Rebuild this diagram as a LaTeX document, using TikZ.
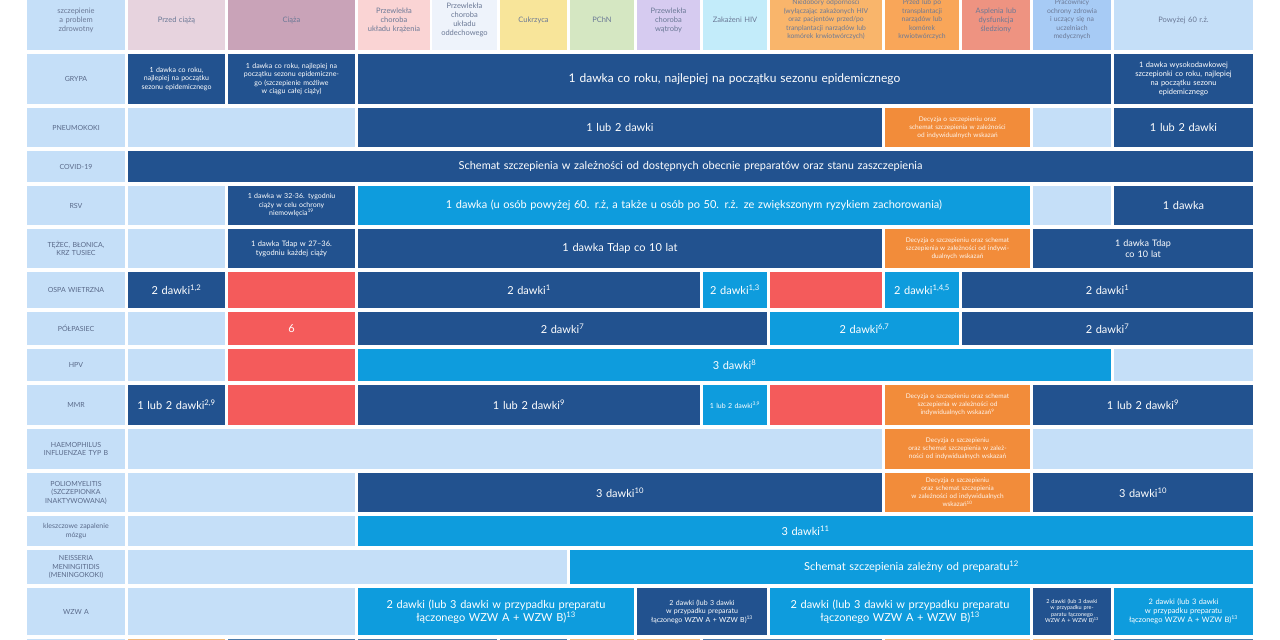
\documentclass[tikz,border=0pt]{standalone}
\usepackage{fontspec}
\setmainfont{Lato}
\usepackage{tikz}

\definecolor{pale}{HTML}{C5DFF8}
\definecolor{navy}{HTML}{22528F}
\definecolor{sky}{HTML}{0E9CDD}
\definecolor{alert}{HTML}{F45B5B}
\definecolor{decide}{HTML}{F28C3A}
\definecolor{labtext}{HTML}{5A6A8A}
\definecolor{hpre}{HTML}{E7D3DE}
\definecolor{hpreg}{HTML}{C9A3B8}
\definecolor{hheart}{HTML}{FAD4D4}
\definecolor{hlung}{HTML}{EEF3FB}
\definecolor{hsugar}{HTML}{F8E59A}
\definecolor{hkidney}{HTML}{D5E7C2}
\definecolor{hliver}{HTML}{D6CBF0}
\definecolor{hhiv}{HTML}{C3ECFA}
\definecolor{himmun}{HTML}{F9B56B}
\definecolor{htrans}{HTML}{F9A659}
\definecolor{hspleen}{HTML}{EE9381}
\definecolor{hstaff}{HTML}{A7CBF5}
\definecolor{lowor}{HTML}{F2B97A}
\definecolor{lowbl}{HTML}{4A79A8}

\tikzset{
  cell/.style={draw=none, inner sep=1pt, align=center, font=\fontsize{7}{8.5}\selectfont},
  lab/.style={cell, fill=pale, text=labtext},
  empty/.style={cell, fill=pale},
  dark/.style={cell, fill=navy, text=white},
  mid/.style={cell, fill=sky, text=white},
  red/.style={cell, fill=alert, text=white},
  dec/.style={cell, fill=decide, text=white!90!decide, font=\fontsize{6.5}{8}\selectfont},
  head/.style={cell, text=labtext!90, font=\fontsize{7.5}{9}\selectfont},
  big/.style={font=\fontsize{12}{14}\selectfont},
  med/.style={font=\fontsize{11}{13}\selectfont},
  tiny/.style={font=\fontsize{5.5}{6.5}\selectfont},
}

% cell: style, name, x1, x2, y1, y2, text
\newcommand{\cell}[7]{%
  \node[#1, minimum width={(#4-#3)*1pt}, minimum height={(#6-#5)*1pt}, text width={(#4-#3-4)*1pt}]
    (#2) at ({(#3+#4)/2},{(#5+#6)/2}) {#7};}
\newcommand{\up}[1]{\textsuperscript{#1}}

\begin{document}
\begin{tikzpicture}[x=1pt,y=-1pt]
  \useasboundingbox (0,0) rectangle (1280,640);

  % header row
  \cell{head, fill=pale}{h0}{27}{125}{-10}{50}{szczepienie\\a problem\\zdrowotny}
  \cell{head, fill=hpre}{h1}{128}{225}{-10}{50}{Przed ciążą}
  \cell{head, fill=hpreg}{h2}{228}{355}{-10}{50}{Ciąża}
  \cell{head, fill=hheart}{h3}{358}{430}{-10}{50}{Przewlekła\\choroba\\układu krążenia}
  \cell{head, fill=hlung}{h4}{432}{497}{-10}{50}{Przewlekła\\choroba\\układu\\oddechowego}
  \cell{head, fill=hsugar}{h5}{500}{567}{-10}{50}{Cukrzyca}
  \cell{head, fill=hkidney}{h6}{570}{634}{-10}{50}{PChN}
  \cell{head, fill=hliver}{h7}{637}{700}{-10}{50}{Przewlekła\\choroba\\wątroby}
  \cell{head, fill=hhiv}{h8}{703}{767}{-10}{50}{Zakażeni HIV}
  \cell{head, fill=himmun, font=\fontsize{6.8}{8.5}\selectfont}{h9}{770}{882}{-10}{50}{Niedobory odporności\\(wyłączając zakażonych HIV\\oraz pacjentów przed/po\\tranplantacji narządów lub\\komórek krwiotwórczych)}
  \cell{head, fill=htrans, font=\fontsize{6.8}{8.5}\selectfont}{h10}{885}{959}{-10}{50}{Przed lub po\\transplantacji\\narządów lub\\komórek\\krwiotwórczych}
  \cell{head, fill=hspleen}{h11}{962}{1030}{-10}{50}{Asplenia lub\\dysfunkcja\\śledziony}
  \cell{head, fill=hstaff, font=\fontsize{6.8}{8.5}\selectfont}{h12}{1033}{1111}{-10}{50}{Pracownicy\\ochrony zdrowia\\i uczący się na\\uczelniach\\medycznych}
  \cell{head, fill=pale}{h13}{1114}{1253}{-10}{50}{Powyżej 60 r.ż.}

  % GRYPA
  \cell{lab}{l1}{27}{125}{54}{104}{GRYPA}
  \cell{dark}{g1}{128}{225}{54}{104}{1 dawka co roku,\\najlepiej na początku\\sezonu epidemicznego}
  \cell{dark}{g2}{228}{355}{54}{104}{1 dawka co roku, najlepiej na\\początku sezonu epidemiczne-\\go (szczepienie możliwe\\w ciągu całej ciąży)}
  \cell{dark, big}{g3}{358}{1111}{54}{104}{1 dawka co roku, najlepiej na początku sezonu epidemicznego}
  \cell{dark, font=\fontsize{7.5}{9}\selectfont}{g4}{1114}{1253}{54}{104}{1 dawka wysokodawkowej\\szczepionki co roku, najlepiej\\na początku sezonu\\epidemicznego}

  % PNEUMOKOKI
  \cell{lab}{l2}{27}{125}{108}{147}{PNEUMOKOKI}
  \cell{empty}{p1}{128}{355}{108}{147}{}
  \cell{dark, med}{p2}{358}{882}{108}{147}{1 lub 2 dawki}
  \cell{dec}{p3}{885}{1030}{108}{147}{Decyzja o szczepieniu oraz\\schemat szczepienia w zależności\\od indywidualnych wskazań}
  \cell{empty}{p4}{1033}{1111}{108}{147}{}
  \cell{dark, med}{p5}{1114}{1253}{108}{147}{1 lub 2 dawki}

  % COVID-19
  \cell{lab}{l3}{27}{125}{151}{182}{COVID-19}
  \cell{dark, med}{c1}{128}{1253}{151}{182}{Schemat szczepienia w zależności od dostępnych obecnie preparatów oraz stanu zaszczepienia}

  % RSV
  \cell{lab}{l4}{27}{125}{186}{225}{RSV}
  \cell{empty}{r1}{128}{225}{186}{225}{}
  \cell{dark}{r2}{228}{355}{186}{225}{1 dawka w 32-36. tygodniu\\ciąży w celu ochrony\\niemowlęcia\up{19}}
  \cell{mid, med}{r3}{358}{1030}{186}{225}{1 dawka (u osób powyżej 60. r.ż, a także u osób po 50. r.ż. ze zwiększonym ryzykiem zachorowania)}
  \cell{empty}{r4}{1033}{1111}{186}{225}{}
  \cell{dark, med}{r5}{1114}{1253}{186}{225}{1 dawka}

  % TEZEC
  \cell{lab}{l5}{27}{125}{229}{268}{TĘŻEC, BŁONICA,\\KRZ TUSIEC}
  \cell{empty}{t1}{128}{225}{229}{268}{}
  \cell{dark, font=\fontsize{7.5}{9}\selectfont}{t2}{228}{355}{229}{268}{1 dawka Tdap w 27–36.\\tygodniu każdej ciąży}
  \cell{dark, med}{t3}{358}{882}{229}{268}{1 dawka Tdap co 10 lat}
  \cell{dec}{t4}{885}{1030}{229}{268}{Decyzja o szczepieniu oraz schemat\\szczepienia w zależności od indywi-\\dualnych wskazań}
  \cell{dark, font=\fontsize{9}{11}\selectfont}{t5}{1033}{1253}{229}{268}{1 dawka Tdap\\co 10 lat}

  % OSPA WIETRZNA
  \cell{lab}{l6}{27}{125}{272}{308}{OSPA WIETRZNA}
  \cell{dark, med}{o1}{128}{225}{272}{308}{2 dawki\up{1,2}}
  \cell{red}{o2}{228}{355}{272}{308}{}
  \cell{dark, med}{o3}{358}{700}{272}{308}{2 dawki\up{1}}
  \cell{mid, med}{o4}{703}{767}{272}{308}{2 dawki\up{1,3}}
  \cell{red}{o5}{770}{882}{272}{308}{}
  \cell{mid, med}{o6}{885}{959}{272}{308}{2 dawki\up{1,4,5}}
  \cell{dark, med}{o7}{962}{1253}{272}{308}{2 dawki\up{1}}

  % POLPASIEC
  \cell{lab}{l7}{27}{125}{312}{345}{PÓŁPASIEC}
  \cell{empty}{s1}{128}{225}{312}{345}{}
  \cell{red, med}{s2}{228}{355}{312}{345}{6}
  \cell{dark, med}{s3}{358}{767}{312}{345}{2 dawki\up{7}}
  \cell{mid, med}{s4}{770}{959}{312}{345}{2 dawki\up{6,7}}
  \cell{dark, med}{s5}{962}{1253}{312}{345}{2 dawki\up{7}}

  % HPV
  \cell{lab}{l8}{27}{125}{349}{381}{HPV}
  \cell{empty}{v1}{128}{225}{349}{381}{}
  \cell{red}{v2}{228}{355}{349}{381}{}
  \cell{mid, med}{v3}{358}{1111}{349}{381}{3 dawki\up{8}}
  \cell{empty}{v4}{1114}{1253}{349}{381}{}

  % MMR
  \cell{lab}{l9}{27}{125}{385}{425}{MMR}
  \cell{dark, med}{m1}{128}{225}{385}{425}{1 lub 2 dawki\up{2,9}}
  \cell{red}{m2}{228}{355}{385}{425}{}
  \cell{dark, med}{m3}{358}{700}{385}{425}{1 lub 2 dawki\up{9}}
  \cell{mid}{m4}{703}{767}{385}{425}{1 lub 2 dawki\up{3,9}}
  \cell{red}{m5}{770}{882}{385}{425}{}
  \cell{dec}{m6}{885}{1030}{385}{425}{Decyzja o szczepieniu oraz schemat\\szczepienia w zależności od\\indywidualnych wskazań\up{9}}
  \cell{dark, med}{m7}{1033}{1253}{385}{425}{1 lub 2 dawki\up{9}}

  % HAEMOPHILUS
  \cell{lab}{l10}{27}{125}{429}{469}{HAEMOPHILUS\\INFLUENZAE TYP B}
  \cell{empty}{hb1}{128}{882}{429}{469}{}
  \cell{dec}{hb2}{885}{1030}{429}{469}{Decyzja o szczepieniu\\oraz schemat szczepienia w zależ-\\ności od indywidualnych wskazań}
  \cell{empty}{hb3}{1033}{1253}{429}{469}{}

  % POLIOMYELITIS
  \cell{lab}{l11}{27}{125}{473}{512}{POLIOMYELITIS\\(SZCZEPIONKA\\INAKTYWOWANA)}
  \cell{empty}{pl1}{128}{355}{473}{512}{}
  \cell{dark, med}{pl2}{358}{882}{473}{512}{3 dawki\up{10}}
  \cell{dec}{pl3}{885}{1030}{473}{512}{Decyzja o szczepieniu\\oraz schemat szczepienia\\w zależności od indywidualnych\\wskazań\up{10}}
  \cell{dark, med}{pl4}{1033}{1253}{473}{512}{3 dawki\up{10}}

  % kleszczowe zapalenie mozgu
  \cell{lab}{l12}{27}{125}{516}{546}{kleszczowe zapalenie\\mózgu}
  \cell{empty}{k1}{128}{355}{516}{546}{}
  \cell{mid, med}{k2}{358}{1253}{516}{546}{3 dawki\up{11}}

  % NEISSERIA
  \cell{lab}{l13}{27}{125}{550}{584}{NEISSERIA\\MENINGITIDIS\\(MENINGOKOKI)}
  \cell{empty}{n1}{128}{567}{550}{584}{}
  \cell{mid, med}{n2}{570}{1253}{550}{584}{Schemat szczepienia zależny od preparatu\up{12}}

  % WZW A
  \cell{lab}{l14}{27}{125}{588}{635}{WZW A}
  \cell{empty}{w1}{128}{355}{588}{635}{}
  \cell{mid, med}{w2}{358}{634}{588}{635}{2 dawki (lub 3 dawki w przypadku preparatu\\łączonego WZW A + WZW B)\up{13}}
  \cell{dark}{w3}{637}{767}{588}{635}{2 dawki (lub 3 dawki\\w przypadku preparatu\\łączonego WZW A + WZW B)\up{13}}
  \cell{mid, med}{w4}{770}{1030}{588}{635}{2 dawki (lub 3 dawki w przypadku preparatu\\łączonego WZW A + WZW B)\up{13}}
  \cell{dark, tiny}{w5}{1033}{1111}{588}{635}{2 dawki (lub 3 dawki\\w przypadku pre-\\paratu łączonego\\WZW A + WZW B)\up{13}}
  \cell{mid, font=\fontsize{7.5}{9}\selectfont}{w6}{1114}{1253}{588}{635}{2 dawki (lub 3 dawki\\w przypadku preparatu\\łączonego WZW A + WZW B)\up{13}}

  % next row, cut off at the bottom
  \cell{empty}{b0}{27}{125}{639}{660}{}
  \cell{cell, fill=lowor}{b1}{128}{225}{639}{660}{}
  \cell{cell, fill=lowbl}{b2}{228}{355}{639}{660}{}
  \cell{cell, fill=lowbl}{b3}{358}{497}{639}{660}{}
  \cell{cell, fill=lowbl}{b4}{500}{567}{639}{660}{}
  \cell{cell, fill=lowor}{b5}{570}{634}{639}{660}{}
  \cell{cell, fill=lowor}{b6}{637}{700}{639}{660}{}
  \cell{cell, fill=lowbl}{b7}{703}{882}{639}{660}{}
  \cell{cell, fill=lowor}{b8}{885}{1030}{639}{660}{}
  \cell{cell, fill=lowor}{b9}{1033}{1111}{639}{660}{}
  \cell{cell, fill=lowbl}{b10}{1114}{1253}{639}{660}{}
\end{tikzpicture}
\end{document}
